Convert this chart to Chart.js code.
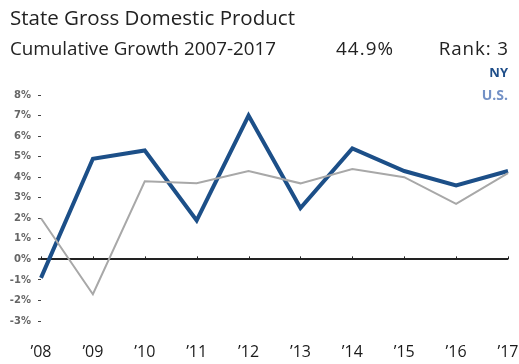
<!DOCTYPE html>
<html>
<head>
<meta charset="utf-8">
<script src="https://cdn.jsdelivr.net/npm/chart.js@4"></script>
<style>
  html, body { margin: 0; padding: 0; background: #fff; }
  #wrap { position: relative; width: 519px; height: 364px; font-family: "Open Sans", sans-serif; color: #222; }
  #chart { position: absolute; left: 0; top: 0; }
  .txt { position: absolute; white-space: nowrap; }
  #title  { left: 10px; top: 3px; font-size: 20.5px; }
  #sub    { left: 10px; top: 35px; font-size: 18.8px; }
  #growth { left: 336px; top: 35px; font-size: 18.8px; letter-spacing: 1.1px; }
  #rank   { right: 10px; top: 35px; font-size: 18.8px; letter-spacing: 0.9px; }
  #lgNY   { right: 11px; top: 63px; font-size: 13px; font-weight: bold; color: #1f4e89; }
  #lgUS   { right: 11px; top: 85px; font-size: 14px; font-weight: bold; color: #7391c6; }
</style>
</head>
<body>
<div id="wrap">
  <canvas id="chart" width="519" height="364"></canvas>
  <div class="txt" id="title">State Gross Domestic Product</div>
  <div class="txt" id="sub">Cumulative Growth 2007-2017</div>
  <div class="txt" id="growth">44.9%</div>
  <div class="txt" id="rank">Rank: 3</div>
  <div class="txt" id="lgNY">NY</div>
  <div class="txt" id="lgUS">U.S.</div>
</div>
<script>
// annual real GDP growth, percent
const years    = ["’08", "’09", "’10", "’11", "’12", "’13", "’14", "’15", "’16", "’17"];
const nyGrowth = [-0.9, 4.9, 5.3, 1.9, 7.0, 2.5, 5.4, 4.3, 3.6, 4.3];
const usGrowth = [2.0, -1.7, 3.8, 3.7, 4.3, 3.7, 4.4, 4.0, 2.7, 4.2];
const yMin = -3, yMax = 8;

// short upward ticks sitting on the zero line at each year
const zeroTicks = {
  id: 'zeroTicks',
  beforeDatasetsDraw(chart) {
    const { ctx, scales: { x, y } } = chart;
    const y0 = y.getPixelForValue(0);
    ctx.save();
    ctx.strokeStyle = '#222';
    ctx.lineWidth = 1;
    years.forEach((_, i) => {
      const px = Math.round(x.getPixelForValue(i)) + 0.5;
      ctx.beginPath();
      ctx.moveTo(px, y0);
      ctx.lineTo(px, y0 - 3);
      ctx.stroke();
    });
    ctx.restore();
  }
};

new Chart(document.getElementById('chart'), {
  type: 'line',
  data: {
    labels: years,
    datasets: [
      { label: 'U.S.', data: usGrowth, borderColor: '#a8a8a8', borderWidth: 2, pointRadius: 0, tension: 0 },
      { label: 'NY',   data: nyGrowth, borderColor: '#1c4f88', borderWidth: 4, pointRadius: 0, tension: 0, borderJoinStyle: 'miter' },
    ]
  },
  options: {
    responsive: false, animation: false, devicePixelRatio: 1,
    layout: { padding: { top: 95, right: 11, left: 0, bottom: 0 } },
    plugins: { legend: { display: false }, tooltip: { enabled: false } },
    scales: {
      x: {
        offset: false,
        grid: { display: false, drawTicks: false },
        border: { display: false },
        ticks: { color: '#1a1a1a', font: { family: 'Open Sans', size: 16 }, padding: 22, maxRotation: 0, autoSkip: false },
        // keep the label padding from eating into the plot width
        afterFit: s => { s.height = 43; s.paddingLeft = 0; s.paddingRight = 0; }
      },
      y: {
        min: yMin, max: yMax,
        border: { display: false },
        grid: {
          color: c => c.tick && c.tick.value === 0 ? '#222' : 'rgba(0,0,0,0)',
          lineWidth: c => c.tick && c.tick.value === 0 ? 2 : 1,
          tickColor: '#444', tickLength: 3, drawTicks: true
        },
        ticks: {
          stepSize: 1, padding: 7, color: '#666',
          font: { family: 'DejaVu Sans', size: 10, weight: 'bold' },
          callback: v => v + '%'
        },
        afterFit: s => { s.width = 41; }
      }
    }
  },
  plugins: [zeroTicks]
});
</script>
</body>
</html>
